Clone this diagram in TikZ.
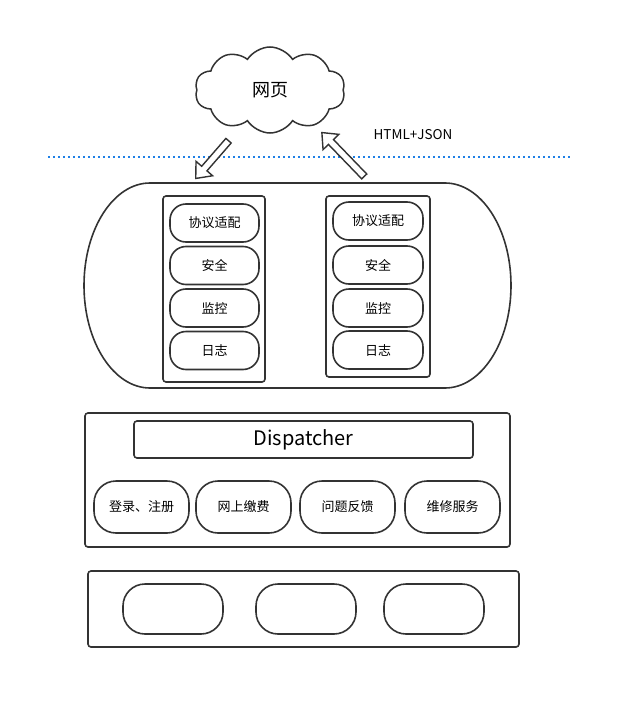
\documentclass[tikz,border=0pt]{standalone}
\usepackage{fontspec}
\newfontfamily\cjk{Noto Sans CJK SC}
\usepackage{tikz}
\usetikzlibrary{shapes.symbols,shapes.arrows,positioning}
\definecolor{linegray}{HTML}{333333}
\definecolor{dotblue}{RGB}{30,128,230}
\tikzset{
  box/.style={draw=linegray, line width=1.6pt, rounded corners=3pt, inner sep=0pt},
  pill/.style={draw=linegray, line width=1.6pt, rounded corners=16pt, inner sep=0pt,
    minimum width=89pt, minimum height=38pt, font=\cjk\fontsize{13}{13}\selectfont},
  bigpill/.style={pill, rounded corners=22pt, minimum width=95pt, minimum height=52pt},
  hollow/.style={shape=single arrow, draw=linegray, line width=1.4pt, fill=white,
    inner sep=2.8pt, single arrow head extend=7.5pt, single arrow tip angle=80}
}
\begin{document}
\begin{tikzpicture}[x=1pt,y=-1pt]
  \useasboundingbox (0,0) rectangle (633,709);
  % page and transport
  \node[cloud, cloud puffs=10, cloud puff arc=115, aspect=1.75, draw=linegray,
    line width=1.5pt, minimum width=150pt, minimum height=86pt,
    font=\cjk\fontsize{18}{18}\selectfont] (web) at (270,90) {网页};
  \node[font=\cjk\fontsize{13.5}{13.5}\selectfont] (fmt) at (413,135) {HTML+JSON};
  \coordinate (dl) at (48,157);
  \coordinate (dr) at (570,157);
  \draw[dotblue, line width=2.2pt, dash pattern=on 2.4pt off 2.6pt] (dl) -- (dr);
  \node[hollow, minimum height=50pt, rotate=229] (req) at (213.5,158) {};
  \node[hollow, minimum height=61pt, rotate=134] (resp) at (344.5,156) {};
  % gateway
  \draw[linegray, line width=1.6pt] (150,183) -- (445,183)
    .. controls (481.4,183) and (511,228.9) .. (511,285.5)
    .. controls (511,342.1) and (481.4,388) .. (445,388) -- (150,388)
    .. controls (113.6,388) and (84,342.1) .. (84,285.5)
    .. controls (84,228.9) and (113.6,183) .. (150,183) -- cycle;
  \node[box, minimum width=102pt, minimum height=186pt] (colA) at (214,289) {};
  \node[box, minimum width=104pt, minimum height=181pt] (colB) at (378,286.5) {};
  \node[pill] (a1) at (214.5,223) {协议适配};
  \node[pill] (a2) at (214.5,265.5) {安全};
  \node[pill] (a3) at (214.5,308) {监控};
  \node[pill] (a4) at (214.5,350.5) {日志};
  \node[pill, minimum width=90pt] (b1) at (378,221) {协议适配};
  \node[pill, minimum width=90pt] (b2) at (378,265) {安全};
  \node[pill, minimum width=90pt] (b3) at (378,308) {监控};
  \node[pill, minimum width=90pt] (b4) at (378,350) {日志};
  % services
  \node[box, minimum width=425pt, minimum height=134pt] (svc) at (297.5,480) {};
  \node[box, minimum width=339pt, minimum height=37pt,
    font=\cjk\fontsize{20}{20}\selectfont] (disp) at (303.5,439.5) {Dispatcher};
  \node[bigpill] (s1) at (141.5,507) {登录、注册};
  \node[bigpill] (s2) at (243.5,507) {网上缴费};
  \node[bigpill] (s3) at (347.5,507) {问题反馈};
  \node[bigpill] (s4) at (452.5,507) {维修服务};
  % bottom layer
  \node[box, minimum width=431pt, minimum height=76pt] (base) at (303.5,609) {};
  \foreach \x/\n in {173/1,306/2,434/3}
    \node[bigpill, minimum width=100pt, minimum height=50pt] (e\n) at (\x,609) {};
\end{tikzpicture}
\end{document}
